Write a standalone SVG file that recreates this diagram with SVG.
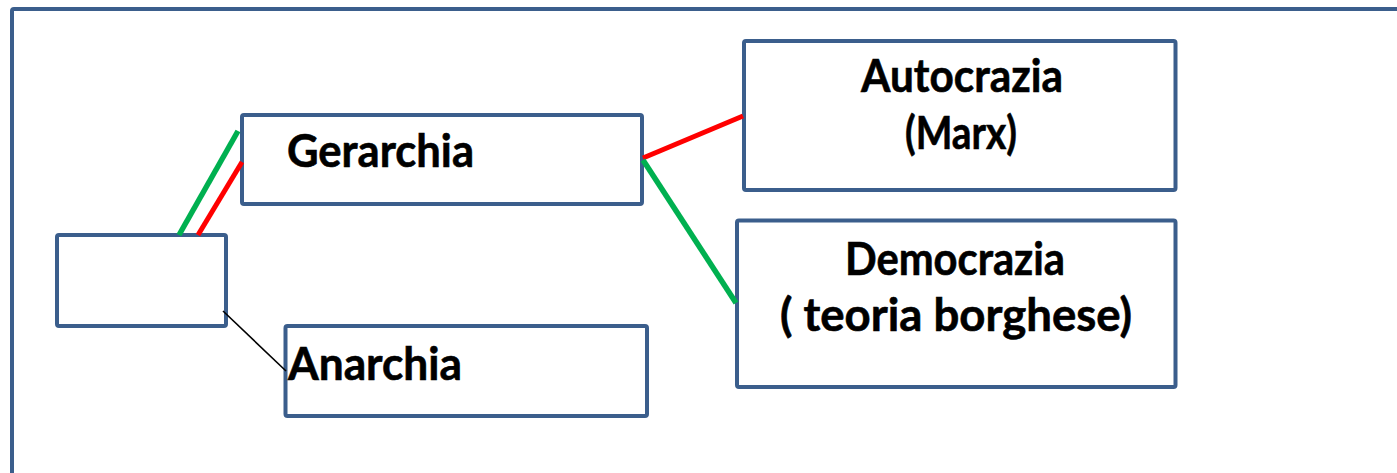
<svg xmlns="http://www.w3.org/2000/svg" width="1397" height="473" viewBox="0 0 1397 473">
  <style>
    .box { fill: #ffffff; stroke: #3b5e8c; stroke-width: 4; }
    .frame { fill: none; stroke: #3b5e8c; stroke-width: 4; }
    .lbl { font-family: Lato, "Liberation Sans", sans-serif; font-weight: bold; font-size: 45px; fill: #000000; stroke: #000000; stroke-width: 0.6; }
    .mid { text-anchor: middle; }
    .green { stroke: #00b050; stroke-width: 5.5; }
    .red { stroke: #ff0000; stroke-width: 5; }
    .thin { stroke: #000000; stroke-width: 1.6; }
  </style>
  <rect width="1397" height="473" fill="#ffffff"/>
  <!-- outer frame, running past the right and bottom edges -->
  <rect class="frame" x="12" y="9" width="1400" height="480" rx="2"/>

  <g id="root">
    <rect class="box" x="57" y="235" width="169" height="91" rx="2"/>
  </g>
  <g id="gerarchia">
    <rect class="box" x="242" y="115" width="400" height="89" rx="2"/>
    <text class="lbl" x="287" y="167" textLength="187" lengthAdjust="spacingAndGlyphs">Gerarchia</text>
  </g>
  <g id="anarchia">
    <rect class="box" x="285.5" y="326" width="361.5" height="90" rx="2"/>
    <text class="lbl" x="288" y="380" textLength="174" lengthAdjust="spacingAndGlyphs">Anarchia</text>
  </g>
  <g id="autocrazia">
    <rect class="box" x="744" y="41" width="431.5" height="149" rx="2"/>
    <text class="lbl mid" x="962" y="92" textLength="202" lengthAdjust="spacingAndGlyphs">Autocrazia</text>
    <text class="lbl mid" x="961" y="149" textLength="112" lengthAdjust="spacingAndGlyphs">(Marx)</text>
  </g>
  <g id="democrazia">
    <rect class="box" x="737" y="220.5" width="438.5" height="166.5" rx="2"/>
    <text class="lbl mid" x="955" y="275" textLength="220" lengthAdjust="spacingAndGlyphs">Democrazia</text>
    <text class="lbl mid" x="956" y="331" textLength="352" lengthAdjust="spacingAndGlyphs">( teoria borghese)</text>
  </g>

  <g id="connectors">
    <line class="green" x1="179" y1="235" x2="238" y2="131"/>
    <line class="red" x1="198" y1="235" x2="242" y2="162"/>
    <line class="red" x1="643" y1="158" x2="743" y2="116"/>
    <line class="green" x1="643" y1="160" x2="736" y2="303"/>
    <line class="thin" x1="223" y1="311" x2="286" y2="371"/>
  </g>
</svg>
